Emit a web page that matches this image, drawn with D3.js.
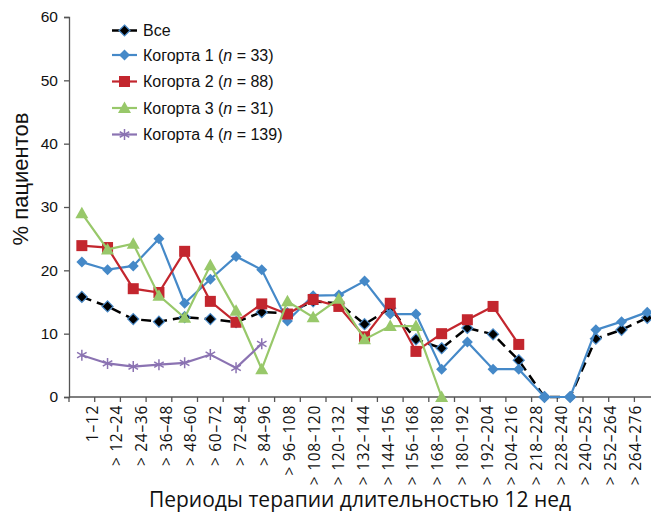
<!DOCTYPE html>
<html><head><meta charset="utf-8">
<script src="https://cdn.jsdelivr.net/npm/d3@7"></script>
<style>body{margin:0;background:#fff}svg{display:block}</style>
</head><body>
<script>
const categories = ["1–12","> 12–24","> 24–36","> 36–48","> 48–60","> 60–72","> 72–84","> 84–96","> 96–108","> 108–120","> 120–132","> 132–144","> 144–156","> 156–168","> 168–180","> 180–192","> 192–204","> 204–216","> 218–228","> 228–240","> 240–252","> 252–264","> 264–276"];
const allValues = [15.8,14.3,12.3,11.9,12.6,12.3,11.8,13.4,13.2,15.1,14.8,11.5,14.0,9.1,7.7,10.9,9.9,5.8,0,0,9.2,10.6,12.5];
const cohort1 = [21.3,20.1,20.7,25.0,14.8,18.6,22.2,20.1,12.0,16.0,16.1,18.3,13.1,13.1,4.4,8.7,4.4,4.4,0,0,10.6,11.9,13.4];
const cohort2 = [23.9,23.6,17.1,16.5,23.0,15.1,11.8,14.7,13.1,15.4,14.3,9.5,14.8,7.2,10.0,12.2,14.3,8.3];
const cohort3 = [29.0,23.3,24.2,16.0,12.5,20.8,13.6,4.4,15.1,12.6,15.5,9.1,11.2,11.2,0];
const cohort4 = [6.6,5.3,4.8,5.1,5.4,6.7,4.6,8.4];
const yTicks = [0,10,20,30,40,50,60];
const seriesNames = ["Все","Когорта 1","Когорта 2","Когорта 3","Когорта 4"];
const seriesN = [null,33,88,31,139];
const yTitle = "% пациентов";
const xTitle = "Периоды терапии длительностью 12 нед";

const W = 651, H = 513;
const svg = d3.select("body").append("svg").attr("width",W).attr("height",H);
const x = d3.scaleBand().domain(categories).range([69, 69 + 23*25.7]).padding(0);
const xLabel = d3.scalePoint().domain(categories).range([92, 635]);
const y = d3.scaleLinear().domain([0,60]).range([397,17]);
const cx = c => x(c) + x.bandwidth()/2;

// axes
const yAxis = svg.append("g").attr("transform","translate(69,0)")
  .call(d3.axisLeft(y).tickValues(yTicks).tickSize(5).tickPadding(6));
yAxis.select(".domain").attr("stroke","#555").attr("stroke-width",1.3);
yAxis.selectAll(".tick line").attr("stroke","#555").attr("stroke-width",1.3);
yAxis.selectAll("text").attr("font-family","Liberation Sans, Arial, sans-serif").attr("font-size",15.5).attr("fill","#111");

const xAxisG = svg.append("g").attr("transform","translate(0,397)");
xAxisG.append("line").attr("x1",69).attr("x2",W).attr("y1",0).attr("y2",0).attr("stroke","#555").attr("stroke-width",1.3);
const bounds = d3.range(categories.length+1).map(i => 69 + i*x.bandwidth());
xAxisG.selectAll("line.tk").data(bounds).join("line").attr("class","tk")
  .attr("x1",d=>d).attr("x2",d=>d).attr("y1",0).attr("y2",5).attr("stroke","#555").attr("stroke-width",1.3);
xAxisG.selectAll("text.lbl").data(categories).join("text").attr("class","lbl")
  .attr("transform",d=>`translate(${xLabel(d)},8) rotate(-90)`)
  .attr("text-anchor","end").attr("dy","0.36em")
  .attr("font-family","Open Sans, sans-serif").attr("font-size",15.5)
  .attr("letter-spacing","0.7px").attr("fill","#111")
  .text(d=>d);

// titles
svg.append("text").attr("transform","translate(28,179) rotate(-90)")
  .attr("text-anchor","middle").attr("font-family","Liberation Sans, Arial, sans-serif")
  .attr("font-size",22).attr("fill","#111").text(yTitle);
svg.append("text").attr("x",360).attr("y",507).attr("text-anchor","middle")
  .attr("font-family","Open Sans, sans-serif").attr("font-size",21).attr("fill","#111").text(xTitle);

const colors = ["#000000","#4589c8","#c3262e","#98c86a","#8b73b2"];
const data = [allValues, cohort1, cohort2, cohort3, cohort4];

function marker(g, k, px, py){
  if(k===0){
    g.append("path").attr("d",`M${px},${py-5.5}L${px+5.5},${py}L${px},${py+5.5}L${px-5.5},${py}Z`)
      .attr("fill","#000").attr("stroke","#4a8ac8").attr("stroke-width",1.2);
  } else if(k===1){
    g.append("path").attr("d",`M${px},${py-5.5}L${px+5.5},${py}L${px},${py+5.5}L${px-5.5},${py}Z`)
      .attr("fill",colors[1]);
  } else if(k===2){
    g.append("rect").attr("x",px-5.5).attr("y",py-5.5).attr("width",11).attr("height",11).attr("fill",colors[2]);
  } else if(k===3){
    g.append("path").attr("d",`M${px},${py-6.5}L${px+6.5},${py+5}L${px-6.5},${py+5}Z`).attr("fill",colors[3]);
  } else {
    const r=5.5, a=Math.PI/6;
    g.append("path").attr("d",
      `M${px},${py-r}L${px},${py+r}`+
      `M${px-r*Math.cos(a)},${py-r*Math.sin(a)}L${px+r*Math.cos(a)},${py+r*Math.sin(a)}`+
      `M${px-r*Math.cos(a)},${py+r*Math.sin(a)}L${px+r*Math.cos(a)},${py-r*Math.sin(a)}`)
      .attr("stroke",colors[4]).attr("stroke-width",1.5).attr("fill","none");
  }
}

const line = d3.line().x(d=>cx(d.c)).y(d=>y(d.v));
data.forEach((vals,k)=>{
  const pts = vals.map((v,i)=>({c:categories[i],v}));
  const g = svg.append("g");
  g.append("path").datum(pts).attr("d",line).attr("fill","none")
    .attr("stroke",colors[k]).attr("stroke-width",k===0?2.5:2.2)
    .attr("stroke-dasharray",k===0?"10,6":null);
  pts.forEach(p=>marker(g,k,cx(p.c),y(p.v)));
});

// legend
const lg = svg.append("g");
const rowsY = [30.5,55,81.5,108,134.5];
seriesNames.forEach((nm,k)=>{
  const yy = rowsY[k];
  lg.append("line").attr("x1",112).attr("x2",137).attr("y1",yy).attr("y2",yy)
    .attr("stroke",colors[k]).attr("stroke-width",k===0?2.5:2.2);
  marker(lg,k,124.5,yy);
  const t = lg.append("text").attr("x",143).attr("y",yy).attr("dy","0.36em")
    .attr("font-family","Liberation Sans, Arial, sans-serif").attr("font-size",16).attr("fill","#111");
  if(seriesN[k]===null){ t.text(nm); }
  else {
    t.append("tspan").text(nm+" (");
    t.append("tspan").attr("font-style","italic").text("n");
    t.append("tspan").text(" = "+seriesN[k]+")");
  }
});
</script>
</body></html>
